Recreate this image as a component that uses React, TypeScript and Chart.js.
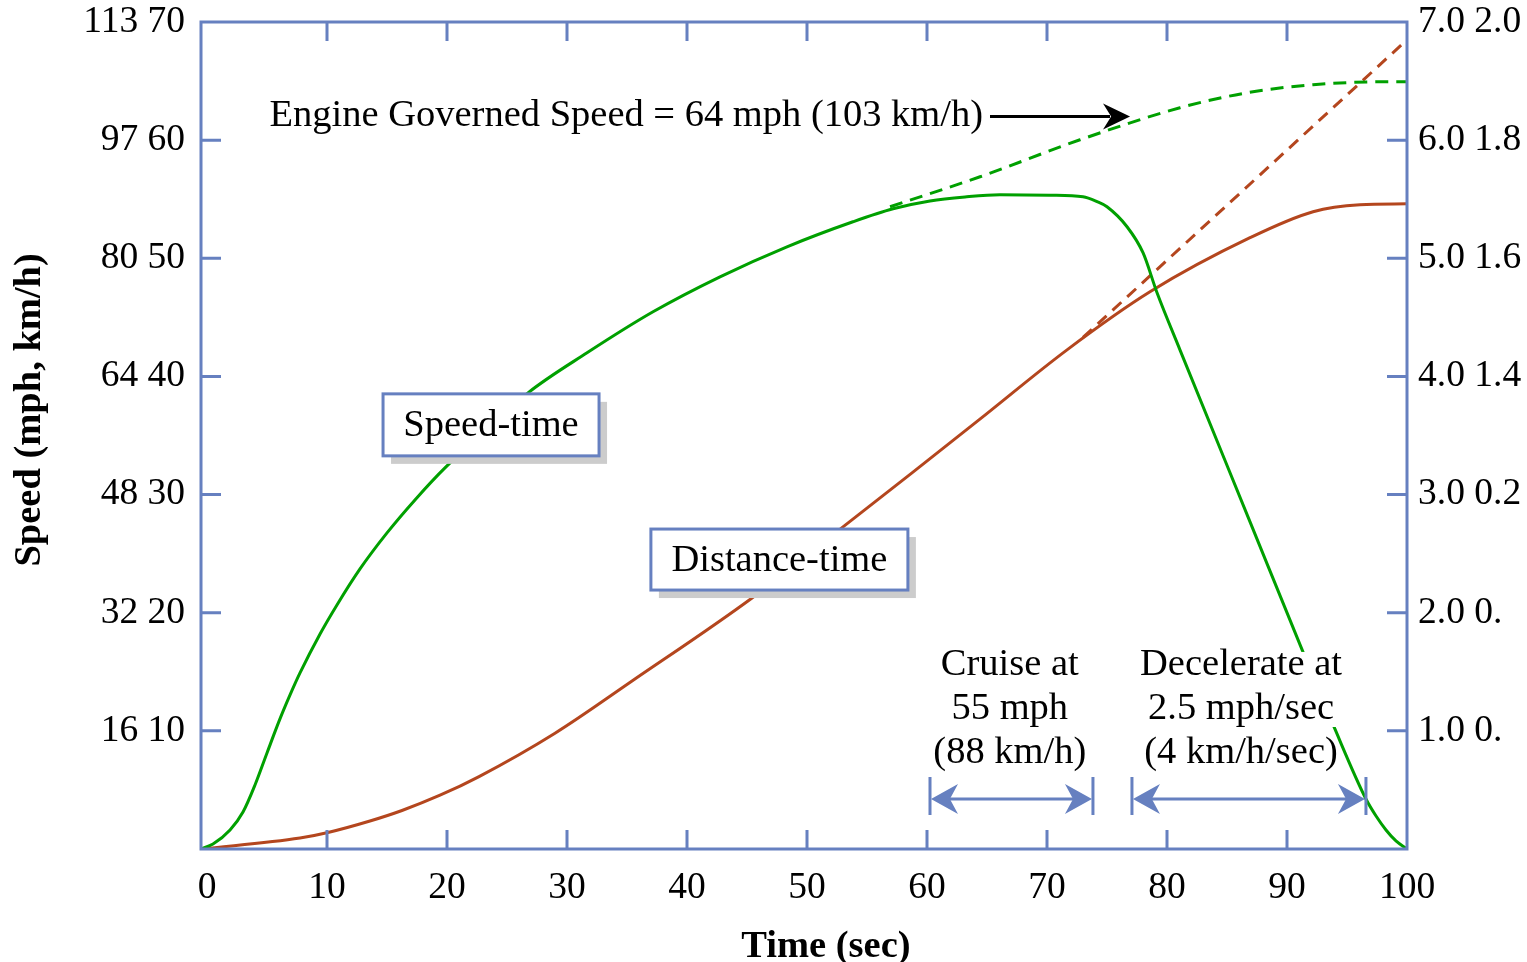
import React, { useEffect, useRef } from 'react';
import { Chart, registerables } from 'chart.js';

Chart.register(...registerables);

// ---------- data ----------
const timeTickValues = [0, 10, 20, 30, 40, 50, 60, 70, 80, 90, 100];
const speedTickValues = [0, 10, 20, 30, 40, 50, 60, 70];
const speedTickLabels = ['', '16 10', '32 20', '48 30', '64 40', '80 50', '97 60', '113 70'];
const distTickValues = [0, 1, 2, 3, 4, 5, 6, 7];
const distTickLabels = ['', '1.0 0.', '2.0 0.', '3.0 0.2', '4.0 1.4', '5.0 1.6', '6.0 1.8', '7.0 2.0'];

// Speed-time curve (mph)
const speedTimeX = [-0.5, 0.5, 1.92, 3.0, 4.0, 5.0, 6.08, 6.92, 7.75, 9.42, 10.83, 12.75, 15.0, 17.33, 19.83, 26.75, 31.67, 37.17, 42.75, 48.33, 53.83, 57.17, 60.25, 63.17, 66.08, 70.25, 73.0, 74.17, 75.0, 76.67, 78.0, 79.17, 81.08, 86.92, 91.33, 93.92, 96.58, 97.42, 98.25, 99.08, 100];
const speedTimeY = [0, 0.42, 1.61, 3.13, 5.42, 8.13, 11.01, 13.04, 14.9, 18.2, 20.66, 23.71, 26.76, 29.55, 32.26, 38.61, 42.0, 45.47, 48.43, 50.97, 53.09, 54.19, 54.85, 55.19, 55.38, 55.34, 55.21, 54.8, 54.36, 52.67, 50.47, 47.08, 42.25, 27.69, 16.68, 10.33, 4.23, 2.79, 1.61, 0.68, 0];

// Engine governed speed extension (mph)
const governedX = [56.92, 64.42, 72.75, 81.08, 86.67, 92.17, 98.42, 100];
const governedY = [54.36, 56.9, 60.03, 62.74, 64.01, 64.69, 64.94, 64.94];

// Distance-time curve (right axis units)
const distTimeX = [-0.5, 7.75, 10.08, 13.58, 16.25, 19.42, 22.67, 29.0, 35.42, 45.42, 53.0, 58.75, 64.33, 71.67, 78.58, 86.92, 92.17, 96.08, 100];
const distTimeY = [0, 0.093, 0.14, 0.237, 0.326, 0.455, 0.613, 0.98, 1.422, 2.125, 2.726, 3.184, 3.632, 4.225, 4.716, 5.174, 5.394, 5.453, 5.461];

// Distance extension without deceleration
const distExtX = [73.0, 99.58];
const distExtY = [4.33, 6.81];

// ---------- styles ----------
const AXIS = '#6680c0';
const GREEN = '#00a000';
const BROWN = '#b4461e';
const FONT = '"Liberation Serif", "DejaVu Serif", serif';
const TEXT_PX = 38.5;
const TICK_PX = 37.5;

const pts = (xs: number[], ys: number[]) => xs.map((x, i) => ({ x, y: ys[i] }));

function stealthHead(ctx: CanvasRenderingContext2D, tipX: number, tipY: number, dir: number, len: number, half: number) {
  ctx.beginPath();
  ctx.moveTo(tipX, tipY);
  ctx.lineTo(tipX - dir * len, tipY - half);
  ctx.lineTo(tipX - dir * len * 0.7, tipY);
  ctx.lineTo(tipX - dir * len, tipY + half);
  ctx.closePath();
  ctx.fill();
}

const overlayPlugin = {
  id: 'overlay',
  afterDatasetsDraw(chart: any) {
    const { ctx, chartArea: ca, scales } = chart;
    const sx = scales.x;
    const sy = scales.y;
    const X = (v: number) => sx.getPixelForValue(v);
    const Y = (v: number) => sy.getPixelForValue(v);
    ctx.save();

    // frame
    ctx.strokeStyle = AXIS;
    ctx.lineWidth = 3;
    ctx.strokeRect(ca.left, ca.top, ca.right - ca.left, ca.bottom - ca.top);

    // inward tick marks
    ctx.beginPath();
    for (const v of timeTickValues) {
      if (v <= 0 || v >= 100) continue;
      const px = X(v);
      ctx.moveTo(px, ca.bottom);
      ctx.lineTo(px, ca.bottom - 19);
      ctx.moveTo(px, ca.top);
      ctx.lineTo(px, ca.top + 19);
    }
    for (const v of speedTickValues) {
      if (v <= 0 || v >= 70) continue;
      const py = Y(v);
      ctx.moveTo(ca.left, py);
      ctx.lineTo(ca.left + 20, py);
      ctx.moveTo(ca.right, py);
      ctx.lineTo(ca.right - 20, py);
    }
    ctx.stroke();

    ctx.font = `${TEXT_PX}px ${FONT}`;
    ctx.textAlign = 'center';
    ctx.textBaseline = 'middle';

    // labelled boxes
    const box = (cxv: number, cyv: number, w: number, h: number, text: string) => {
      const cx = X(cxv);
      const cy = Y(cyv);
      ctx.fillStyle = '#cccccc';
      ctx.fillRect(cx - w / 2 + 8, cy - h / 2 + 8, w, h);
      ctx.fillStyle = '#ffffff';
      ctx.fillRect(cx - w / 2, cy - h / 2, w, h);
      ctx.strokeStyle = AXIS;
      ctx.lineWidth = 3;
      ctx.strokeRect(cx - w / 2, cy - h / 2, w, h);
      ctx.fillStyle = '#000000';
      ctx.fillText(text, cx, cy + 1);
    };
    box(23.67, 35.9, 216, 62, 'Speed-time');
    box(47.7, 24.5, 257, 61, 'Distance-time');

    // engine governed speed annotation
    ctx.fillStyle = '#000000';
    ctx.textAlign = 'right';
    ctx.fillText('Engine Governed Speed = 64 mph (103 km/h)', X(64.67), Y(62.07));
    {
      const y0 = Y(62.0);
      const xa = X(65.25);
      const xb = X(76.92);
      ctx.strokeStyle = '#000000';
      ctx.lineWidth = 3;
      ctx.beginPath();
      ctx.moveTo(xa, y0);
      ctx.lineTo(xb - 20, y0);
      ctx.stroke();
      stealthHead(ctx, xb, y0, 1, 27, 13);
    }

    // cruise / decelerate text
    ctx.textAlign = 'center';
    const lineY = [15.58, 11.85, 8.13];
    const cruise = ['Cruise at', '55 mph', '(88 km/h)'];
    const decel = ['Decelerate at', '2.5 mph/sec', '(4 km/h/sec)'];
    const dcx = X(86.17);
    const w0 = ctx.measureText(decel[0]).width;
    const w1 = ctx.measureText(decel[1]).width;
    const wmax = Math.max(w0, w1) + 6;
    ctx.fillStyle = '#ffffff';
    ctx.fillRect(dcx - wmax / 2, Y(lineY[0]) - 13, wmax, Y(lineY[1]) - Y(lineY[0]) + 31);
    ctx.fillStyle = '#000000';
    cruise.forEach((t, i) => ctx.fillText(t, X(66.9), Y(lineY[i])));
    decel.forEach((t, i) => ctx.fillText(t, dcx, Y(lineY[i])));

    // dimension arrows
    const dim = (a: number, b: number) => {
      const xa = X(a);
      const xb = X(b);
      const ym = Y(4.23);
      const yt = Y(6.1);
      const yb = Y(2.88);
      ctx.strokeStyle = AXIS;
      ctx.fillStyle = AXIS;
      ctx.lineWidth = 3;
      ctx.beginPath();
      ctx.moveTo(xa, yt); ctx.lineTo(xa, yb);
      ctx.moveTo(xb, yt); ctx.lineTo(xb, yb);
      ctx.moveTo(xa + 15, ym); ctx.lineTo(xb - 15, ym);
      ctx.stroke();
      stealthHead(ctx, xa + 1, ym, -1, 27, 15);
      stealthHead(ctx, xb - 1, ym, 1, 27, 15);
    };
    dim(60.25, 73.83);
    dim(77.08, 96.58);

    // axis titles
    ctx.fillStyle = '#000000';
    ctx.font = `bold ${TEXT_PX}px ${FONT}`;
    ctx.textAlign = 'center';
    ctx.fillText('Time (sec)', X(51.58), ca.bottom + 98);
    ctx.save();
    ctx.translate(ca.left - 171, Y(37.17));
    ctx.rotate(-Math.PI / 2);
    ctx.fillText('Speed (mph, km/h)', 0, 0);
    ctx.restore();

    ctx.restore();
  },
};

export default function App() {
  const ref = useRef<HTMLCanvasElement | null>(null);

  useEffect(() => {
    if (!ref.current) return;
    document.body.style.margin = '0';
    const lineBase = { pointRadius: 0, borderWidth: 3, fill: false, cubicInterpolationMode: 'monotone' as const };
    const tickFont = { family: FONT, size: TICK_PX };
    const noVPad = (s: any) => { s.paddingTop = 0; s.paddingBottom = 0; };
    const chart = new Chart(ref.current, {
      type: 'line',
      data: {
        datasets: [
          { ...lineBase, label: 'Speed-time', data: pts(speedTimeX, speedTimeY), borderColor: GREEN, yAxisID: 'y' },
          { ...lineBase, label: 'Engine governed', data: pts(governedX, governedY), borderColor: GREEN, borderDash: [13, 8], yAxisID: 'y' },
          { ...lineBase, label: 'Distance-time', data: pts(distTimeX, distTimeY), borderColor: BROWN, yAxisID: 'y1' },
          { ...lineBase, label: 'Distance extension', data: pts(distExtX, distExtY), borderColor: BROWN, borderDash: [12, 8], yAxisID: 'y1' },
        ],
      },
      options: {
        animation: false,
        responsive: false,
        devicePixelRatio: 1,
        layout: { padding: { top: 22, left: 0, right: 0, bottom: 0 } },
        plugins: { legend: { display: false }, tooltip: { enabled: false } },
        scales: {
          x: {
            type: 'linear',
            min: -0.5,
            max: 100,
            afterBuildTicks: (s: any) => { s.ticks = timeTickValues.map((v) => ({ value: v })); },
            afterFit: (s: any) => { s.height = 113; s.paddingLeft = 0; s.paddingRight = 0; },
            grid: { display: false, drawTicks: false },
            border: { display: false },
            ticks: { color: '#000', font: tickFont, padding: 17, maxRotation: 0, autoSkip: false, callback: (v: any) => String(v) },
          },
          y: {
            type: 'linear',
            position: 'left',
            min: 0,
            max: 70,
            afterBuildTicks: (s: any) => { s.ticks = speedTickValues.map((v) => ({ value: v })); },
            afterFit: (s: any) => { s.width = 201; noVPad(s); },
            grid: { display: false, drawTicks: false },
            border: { display: false },
            ticks: { color: '#000', font: tickFont, padding: 16, autoSkip: false, callback: (_v: any, i: number) => speedTickLabels[i] },
          },
          y1: {
            type: 'linear',
            position: 'right',
            min: 0,
            max: 7,
            afterBuildTicks: (s: any) => { s.ticks = distTickValues.map((v) => ({ value: v })); },
            afterFit: (s: any) => { s.width = 120; noVPad(s); },
            grid: { display: false, drawTicks: false },
            border: { display: false },
            ticks: { color: '#000', font: tickFont, padding: 11, autoSkip: false, callback: (_v: any, i: number) => distTickLabels[i] },
          },
        },
      },
      plugins: [overlayPlugin],
    });
    return () => chart.destroy();
  }, []);

  return (
    <div style={{ position: 'absolute', left: 0, top: 0, width: 1527, height: 962 }}>
      <canvas ref={ref} width={1527} height={962} />
    </div>
  );
}
